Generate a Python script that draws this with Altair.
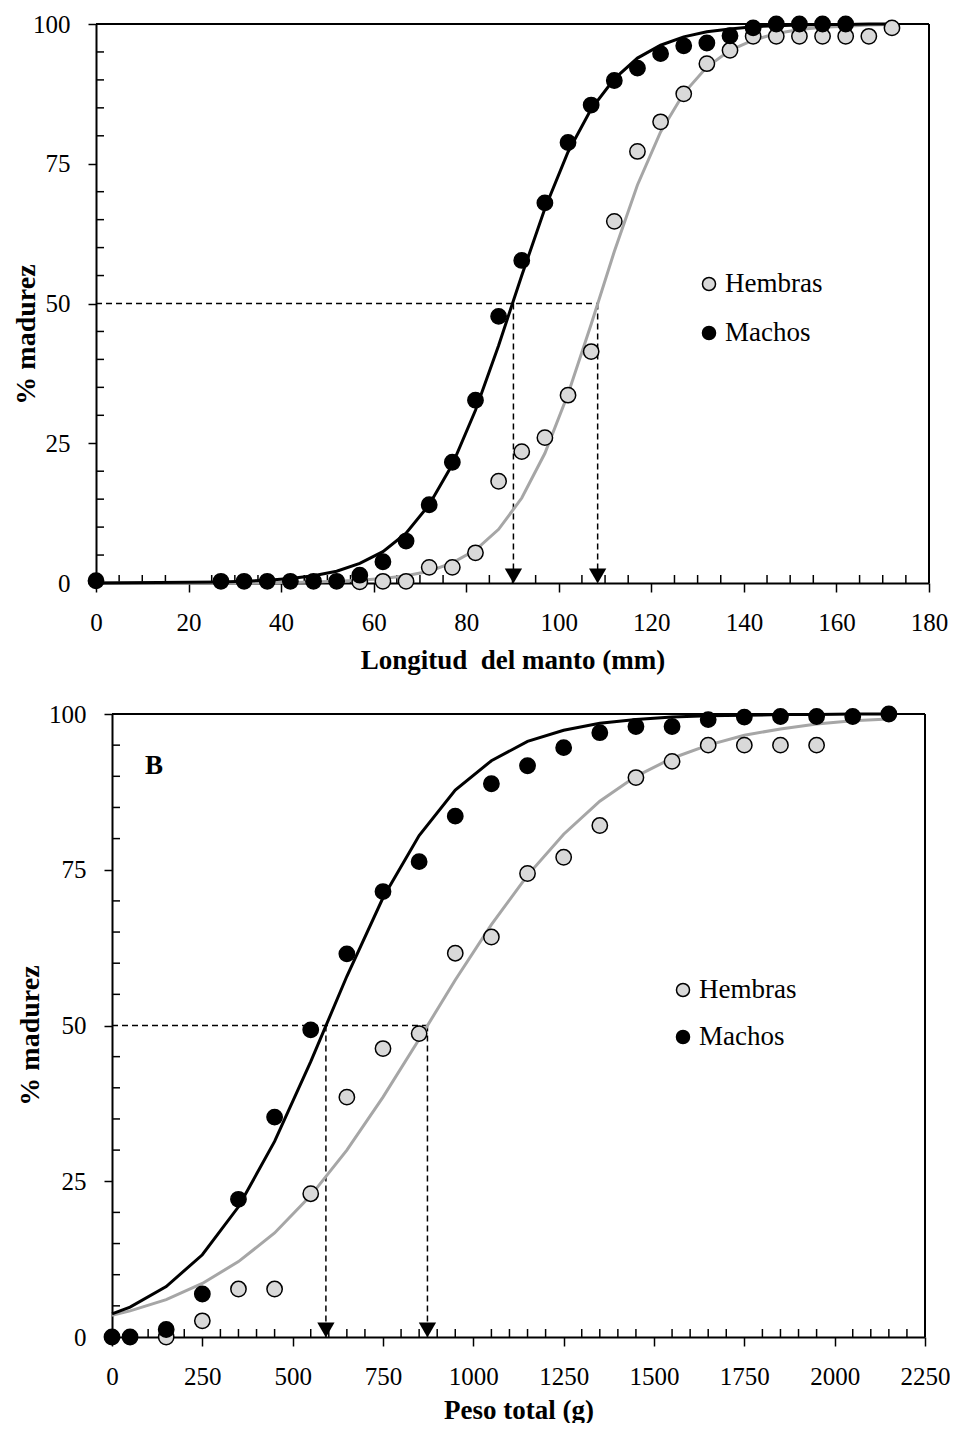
import altair as alt
import pandas as pd

FONT = "Liberation Serif"
GRAY_FILL = "#d9d9d9"
GRAY_LINE = "#a6a6a6"
SEXES = ["Hembras", "Machos"]
SEX_FILL = [GRAY_FILL, "black"]

# ---------------- Panel A: Longitud del manto (mm) ----------------
a_mach_x = [0, 27, 32, 37, 42, 47, 52, 57, 62, 67, 72, 77, 82, 87, 92, 97, 102,
            107, 112, 117, 122, 127, 132, 137, 142, 147, 152, 157, 162]
a_mach_y = [0.4, 0.3, 0.3, 0.3, 0.3, 0.3, 0.3, 1.4, 3.8, 7.5, 14.0, 21.6, 32.7,
            47.7, 57.7, 68.0, 78.8, 85.5, 89.9, 92.1, 94.7, 96.1, 96.6, 97.9,
            99.3, 100.0, 100.0, 100.0, 100.0]
a_hemb_x = [57, 62, 67, 72, 77, 82, 87, 92, 97, 102, 107, 112, 117, 122, 127,
            132, 137, 142, 147, 152, 157, 162, 167, 172]
a_hemb_y = [0.2, 0.3, 0.3, 2.8, 2.8, 5.4, 18.2, 23.5, 26.0, 33.6, 41.4, 64.7,
            77.2, 82.5, 87.5, 92.9, 95.3, 97.8, 97.8, 97.8, 97.8, 97.8, 97.8, 99.3]
a_fit_x = [0, 27, 32, 37, 42, 47, 52, 57, 62, 67, 72, 77, 82, 87, 92, 97, 102,
           107, 112, 117, 122, 127, 132, 137, 142, 147, 152, 157, 162, 167, 172]
a_fit_mach = [0.0, 0.2, 0.3, 0.5, 0.8, 1.3, 2.1, 3.5, 5.6, 8.9, 14.0, 21.2, 30.9,
              42.5, 55.0, 67.0, 77.1, 84.8, 90.2, 93.9, 96.2, 97.7, 98.6, 99.1,
              99.5, 99.7, 99.8, 99.9, 99.9, 100.0, 100.0]
a_fit_hemb = [0.0, 0.0, 0.0, 0.1, 0.1, 0.2, 0.3, 0.5, 0.8, 1.3, 2.1, 3.6, 5.9,
              9.6, 15.2, 23.2, 33.8, 46.3, 59.3, 71.2, 80.7, 87.6, 92.3, 95.3,
              97.1, 98.3, 99.0, 99.4, 99.6, 99.8, 99.9]
a_l50_mach = 90.2
a_l50_hemb = 108.4
a_xticks = [0, 20, 40, 60, 80, 100, 120, 140, 160, 180]
a_xminor = [5, 10, 15, 25, 30, 35, 45, 50, 55, 65, 70, 75, 85, 90, 95, 105, 110,
            115, 125, 130, 135, 145, 150, 155, 165, 170, 175]

# ---------------- Panel B: Peso total (g) ----------------
b_mach_x = [0, 50, 150, 250, 350, 450, 550, 650, 750, 850, 950, 1050, 1150, 1250,
            1350, 1450, 1550, 1650, 1750, 1850, 1950, 2050, 2150]
b_mach_y = [0.0, 0.0, 1.2, 6.9, 22.1, 35.3, 49.3, 61.5, 71.5, 76.3, 83.6, 88.8,
            91.7, 94.6, 97.0, 98.0, 98.0, 99.1, 99.5, 99.6, 99.6, 99.6, 100.0]
b_hemb_x = [150, 250, 350, 450, 550, 650, 750, 850, 950, 1050, 1150, 1250, 1350,
            1450, 1550, 1650, 1750, 1850, 1950]
b_hemb_y = [0.0, 2.6, 7.7, 7.7, 23.0, 38.5, 46.3, 48.7, 61.6, 64.2, 74.4, 77.0,
            82.1, 89.8, 92.4, 95.0, 95.0, 95.0, 95.0]
b_fit_x = [0, 50, 150, 250, 350, 450, 550, 650, 750, 850, 950, 1050, 1150, 1250,
           1350, 1450, 1550, 1650, 1750, 1850, 1950, 2050, 2150]
b_fit_mach = [3.7, 4.8, 8.1, 13.2, 20.9, 31.4, 44.2, 57.9, 70.5, 80.5, 87.8, 92.5,
              95.6, 97.4, 98.5, 99.1, 99.5, 99.7, 99.8, 99.9, 99.9, 100.0, 100.0]
b_fit_hemb = [3.5, 4.2, 6.0, 8.6, 12.1, 16.7, 22.7, 30.0, 38.5, 47.8, 57.3, 66.2,
              74.1, 80.7, 86.0, 90.0, 92.9, 95.0, 96.6, 97.6, 98.4, 98.9, 99.2]
b_l50_mach = 592
b_l50_hemb = 873
b_xticks = [0, 250, 500, 750, 1000, 1250, 1500, 1750, 2000, 2250]
b_xminor = [v for v in range(50, 2250, 50) if v % 250 != 0]

y_ticks = [0, 25, 50, 75, 100]
y_minor = [5, 10, 15, 20, 30, 35, 40, 45, 55, 60, 65, 70, 80, 85, 90, 95]
panel_label = ["B"]


def make_panel(mach_x, mach_y, hemb_x, hemb_y, fit_x, fit_m, fit_h, l50_m, l50_h,
               xmax, xticks, xminor, xtitle, plot_w, height, shift, ytitle_x,
               ytitle_y, x_title_pad, leg_x, leg_y, leg_gap, label=None):
    # shift: pixels between the view origin and the drawn frame's left edge
    total_w = plot_w + shift
    pts = pd.DataFrame(
        {"x": hemb_x + mach_x,
         "pct": hemb_y + mach_y,
         "sexo": ["Hembras"] * len(hemb_x) + ["Machos"] * len(mach_x)})
    fit = pd.DataFrame(
        {"x": fit_x + fit_x,
         "pct": fit_h + fit_m,
         "serie": ["Hembras"] * len(fit_x) + ["Machos"] * len(fit_x)})

    X = alt.X("x:Q",
              scale=alt.Scale(domain=[0, xmax], nice=False, zero=False,
                              range=[shift, total_w]),
              axis=alt.Axis(values=xticks, title=xtitle, tickSize=9, format="d",
                            labelPadding=18, titlePadding=x_title_pad,
                            labelFlush=False, labelOverlap=False, grid=False,
                            titleX=shift + plot_w / 2))
    Y = alt.Y("pct:Q", scale=alt.Scale(domain=[0, 100], nice=False),
              axis=alt.Axis(values=y_ticks, title="% madurez", tickSize=8,
                            labelPadding=18, grid=False, titleAngle=270,
                            offset=-shift,
                            titleX=ytitle_x, titleY=ytitle_y,
                            titleBaseline="middle", titleAlign="center",
                            titleFontSize=28))

    minor_x = alt.Chart(pd.DataFrame({"x": xminor})).mark_rule(
        color="black", strokeWidth=1.5).encode(
        x=X, y=alt.value(height), y2=alt.value(height - 8))
    minor_y = alt.Chart(pd.DataFrame({"pct": y_minor})).mark_rule(
        color="black", strokeWidth=1.5).encode(
        y=Y, x=alt.value(shift), x2=alt.value(shift + 8))
    frame_top = alt.Chart(pd.DataFrame({"k": [0]})).mark_rule(
        color="black", strokeWidth=2).encode(
        x=alt.value(shift), x2=alt.value(total_w), y=alt.value(0))
    frame_right = alt.Chart(pd.DataFrame({"k": [0]})).mark_rule(
        color="black", strokeWidth=2).encode(
        x=alt.value(total_w), y=alt.value(0), y2=alt.value(height))

    hdash = alt.Chart(pd.DataFrame({"x": [0], "x2": [l50_h], "pct": [50]})).mark_rule(
        color="black", strokeWidth=1.5, strokeDash=[6, 4]).encode(
        x=X, x2="x2:Q", y=Y)
    vdash = alt.Chart(pd.DataFrame({"x": [l50_m, l50_h], "pct": [50, 50],
                                    "pct2": [0, 0]})).mark_rule(
        color="black", strokeWidth=1.5, strokeDash=[6, 4]).encode(
        x=X, y=Y, y2="pct2:Q")
    arrows = alt.Chart(pd.DataFrame({"x": [l50_m, l50_h], "pct": [0, 0]})).mark_point(
        shape="triangle-down", filled=True, size=300, color="black", opacity=1,
        yOffset=-7).encode(x=X, y=Y)

    lines = alt.Chart(fit).mark_line(strokeWidth=3).encode(
        x=X, y=Y, detail="serie:N",
        stroke=alt.Stroke("serie:N", scale=alt.Scale(domain=SEXES,
                                                     range=[GRAY_LINE, "black"]),
                          legend=None))
    points = alt.Chart(pts).mark_circle(
        size=235, stroke="black", strokeWidth=1.5, opacity=1).encode(
        x=X, y=Y,
        fill=alt.Fill("sexo:N", scale=alt.Scale(domain=SEXES, range=SEX_FILL),
                      legend=None))

    layers = [frame_top, frame_right, hdash, vdash, minor_x, minor_y, lines,
              points, arrows]

    # in-plot legend
    for i, (sex, col) in enumerate(zip(SEXES, SEX_FILL)):
        ldf = pd.DataFrame({"sexo": [sex]})
        layers.append(alt.Chart(ldf).mark_circle(
            size=170, fill=col, stroke="black", strokeWidth=1.5, opacity=1).encode(
            x=alt.value(leg_x), y=alt.value(leg_y + i * leg_gap)))
        layers.append(alt.Chart(ldf).mark_text(
            font=FONT, fontSize=27, color="black", align="left",
            baseline="middle").encode(
            text="sexo:N", x=alt.value(leg_x + 16), y=alt.value(leg_y + i * leg_gap)))

    if label is not None:
        txt = alt.Chart(pd.DataFrame({"t": label})).mark_text(
            font=FONT, fontSize=27, fontWeight="bold", color="black",
            align="center", baseline="middle").encode(
            text="t:N", x=alt.value(shift + 42), y=alt.value(52))
        layers.append(txt)
    return alt.layer(*layers).properties(
        width=total_w, height=height, view=alt.ViewBackground(stroke=None))


top = make_panel(a_mach_x, a_mach_y, a_hemb_x, a_hemb_y, a_fit_x, a_fit_mach,
                 a_fit_hemb, a_l50_mach, a_l50_hemb, 180, a_xticks, a_xminor,
                 "Longitud\u00a0 del manto (mm)", 833, 559, 0, -69.5, 310, 12,
                 613, 260, 49)
bottom = make_panel(b_mach_x, b_mach_y, b_hemb_x, b_hemb_y, b_fit_x, b_fit_mach,
                    b_fit_hemb, b_l50_mach, b_l50_hemb, 2250, b_xticks, b_xminor,
                    "Peso total (g)", 813, 623, 16, -81.5, 321, 8,
                    587, 276, 47, label=panel_label)

chart = alt.vconcat(top, bottom, spacing=29).properties(
    padding={"left": 4, "top": 4, "right": 0, "bottom": 0},
    background="white"
).configure_axis(
    domainColor="black", domainWidth=2, tickColor="black", tickWidth=1.5,
    labelFont=FONT, labelFontSize=25, labelColor="black",
    titleFont=FONT, titleFontSize=27, titleFontWeight="bold", titleColor="black"
)

chart.save("out.html", embed_options={"renderer": "svg", "actions": False})
